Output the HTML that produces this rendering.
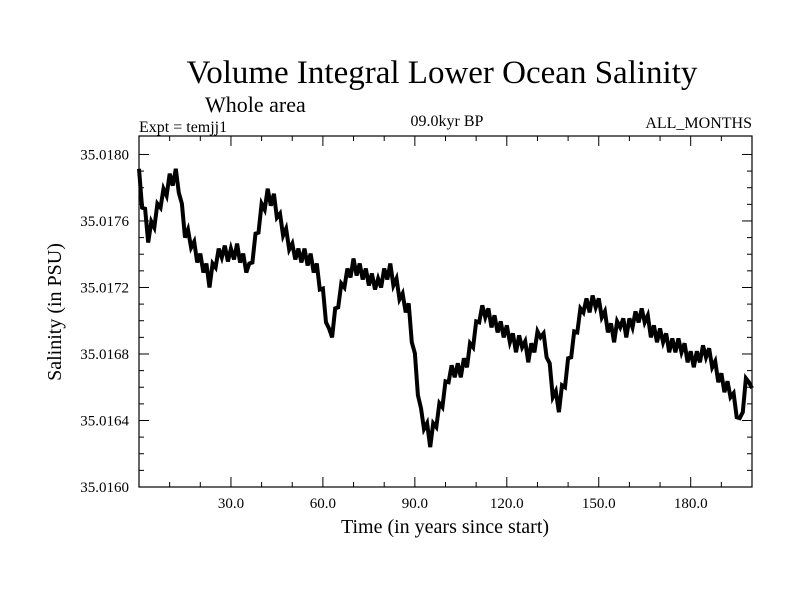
<!DOCTYPE html>
<html><head><meta charset="utf-8"><style>
body{margin:0;background:#fff}
svg text{font-family:"Liberation Serif",serif;fill:#000}
</style></head><body>
<svg id="chart" width="800" height="600" viewBox="0 0 800 600" xmlns="http://www.w3.org/2000/svg">
<rect width="800" height="600" fill="#fff"/>
<text x="442" y="83" font-size="33" text-anchor="middle">Volume Integral Lower Ocean Salinity</text>
<text x="205" y="112" font-size="22">Whole area</text>
<text x="139" y="132" font-size="16">Expt = temjj1</text>
<text x="447" y="126" font-size="16" text-anchor="middle">09.0kyr BP</text>
<text x="752" y="128" font-size="16" text-anchor="end">ALL_MONTHS</text>
<text x="0" y="0" font-size="20" text-anchor="middle" transform="translate(61,312) rotate(-90)">Salinity (in PSU)</text>
<text x="445" y="533" font-size="20" text-anchor="middle">Time (in years since start)</text>
<g id="ticks"></g>
<g id="series"></g>
<rect x="139" y="136" width="613" height="351" fill="none" stroke="#000" stroke-width="1.2"/>
</svg>
<script>
const xTickValues = [30, 60, 90, 120, 150, 180];
const xTickLabels = ["30.0", "60.0", "90.0", "120.0", "150.0", "180.0"];
const yTickValues = [35.0160, 35.0164, 35.0168, 35.0172, 35.0176, 35.0180];
const yTickLabels = ["35.0160", "35.0164", "35.0168", "35.0172", "35.0176", "35.0180"];
const baseSalinity = 35.0160;
// salinity anomaly above base, in micro-PSU, one value per year 0..200
const salinityAnomalyMicro = [1914,1680,1674,1470,1596,1560,1704,1680,1794,1752,1884,1812,1914,1770,1704,1500,1548,1440,1476,1350,1404,1290,1344,1200,1344,1320,1434,1380,1452,1356,1434,1368,1464,1350,1404,1290,1344,1350,1524,1530,1704,1668,1794,1692,1764,1620,1644,1512,1554,1428,1464,1368,1434,1350,1434,1332,1404,1290,1344,1188,1194,990,954,900,1074,1080,1224,1200,1314,1260,1374,1272,1344,1248,1314,1212,1284,1188,1254,1200,1314,1248,1344,1212,1254,1128,1164,1050,1104,870,804,552,474,348,384,240,384,360,504,480,636,630,732,660,744,660,774,720,864,840,996,990,1092,1020,1074,960,1032,930,996,900,972,870,924,810,912,840,876,750,864,810,936,900,924,780,744,540,576,450,612,600,774,780,936,930,1074,1050,1134,1050,1152,1080,1134,1020,1056,930,984,870,996,960,1014,900,1014,960,1056,990,1074,990,1032,900,972,870,954,870,924,810,894,810,894,810,864,750,816,720,816,750,852,780,834,720,756,630,684,570,636,540,564,420,414,450,654,630,594];

const X0 = 139, X1 = 752, Y0 = 487, Y1 = 136;
const xMin = 0, xMax = 200, yMin = 35.0160, yMax = 35.018111;
const xScale = v => X0 + (v - xMin) / (xMax - xMin) * (X1 - X0);
const yScale = v => Y0 - (v - yMin) / (yMax - yMin) * (Y0 - Y1);
const NS = "http://www.w3.org/2000/svg";
const ticks = document.getElementById("ticks");
function line(x1,y1,x2,y2,w){const l=document.createElementNS(NS,"line");l.setAttribute("x1",x1);l.setAttribute("y1",y1);l.setAttribute("x2",x2);l.setAttribute("y2",y2);l.setAttribute("stroke","#000");l.setAttribute("stroke-width",w);ticks.appendChild(l);return l;}
for (let t = 10; t < 200; t += 10) {
  const x = xScale(t), major = t % 30 === 0, len = major ? 10 : 5;
  const a = line(x, Y0, x, Y0 - len, 1);
  
  
  const b = line(x, Y1, x, Y1 + len, 1);
  
  
}
xTickValues.forEach((v, i) => {
  const t = document.createElementNS(NS, "text");
  
  
  t.setAttribute("x", xScale(v)); t.setAttribute("y", 508);
  t.setAttribute("font-size", "15"); t.setAttribute("text-anchor", "middle");
  t.textContent = xTickLabels[i]; ticks.appendChild(t);
});
for (let k = 1; k <= 20; k++) {
  const v = 35.0160 + k * 0.0001, y = yScale(v);
  if (y < Y1) break;
  const major = k % 4 === 0, len = major ? 10 : 5;
  const a = line(X0, y, X0 + len, y, 1);
  
  
  const b = line(X1, y, X1 - len, y, 1);
  
  
}
yTickValues.forEach((v, i) => {
  const t = document.createElementNS(NS, "text");
  
  
  t.setAttribute("x", 129); t.setAttribute("y", yScale(v) + 5);
  t.setAttribute("font-size", "15"); t.setAttribute("text-anchor", "end");
  t.textContent = yTickLabels[i]; ticks.appendChild(t);
});
const pts = salinityAnomalyMicro.map((a, i) => {
  const yr = xMin + i * (xMax - xMin) / (salinityAnomalyMicro.length - 1);
  return xScale(yr).toFixed(1) + "," + yScale(baseSalinity + a * 1e-6).toFixed(1);
});
const p = document.createElementNS(NS, "polyline");


p.setAttribute("points", pts.join(" "));
p.setAttribute("fill", "none"); p.setAttribute("stroke", "#000");
p.setAttribute("stroke-width", "4"); p.setAttribute("stroke-linejoin", "miter");
document.getElementById("series").appendChild(p);
</script>
</body></html>
